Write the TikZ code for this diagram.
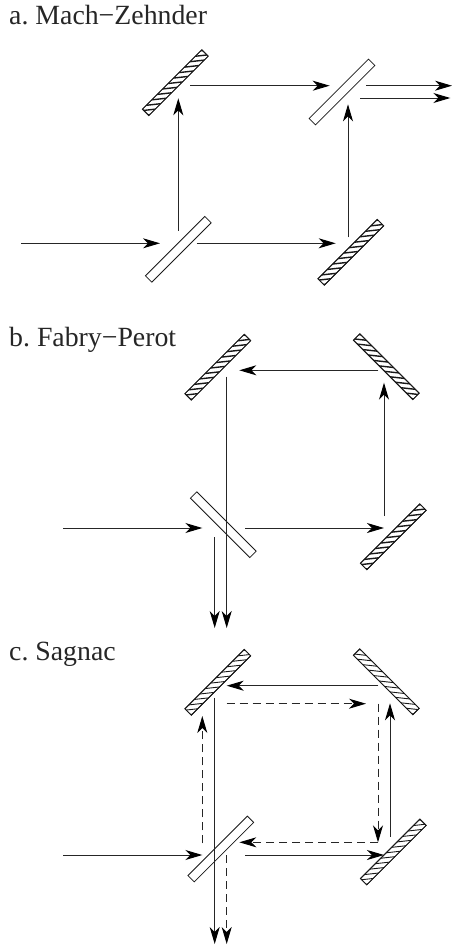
\documentclass[tikz,border=0pt]{standalone}
\usepackage{fontspec}
\setmainfont{Liberation Serif}
\usetikzlibrary{arrows.meta}
\frenchspacing
\tikzset{
  x=1pt,y=-1pt,
  beam/.style={line width=1pt,black!85,-{Stealth[length=17pt,width=10pt,inset=5pt,color=black]}},
  dbeam/.style={beam,dash pattern=on 8pt off 5pt},
  plate/.style={draw=black!90,line width=0.8pt,fill=white,minimum width=84pt,minimum height=9pt,inner sep=0pt,outer sep=0pt},
  lab/.style={anchor=base west,inner sep=0pt,font=\fontsize{27.8}{30}\selectfont,text=black!85},
}
% \mirrorbox{name}{position}{angle}{stripe width}{direction: -1 rising, 1 falling}
\newcommand{\mirrorbox}[5]{%
  \node[plate,rotate=#3] (#1) at (#2) {};
  \begin{scope}
    \clip (#1.north west)--(#1.north east)--(#1.south east)--(#1.south west)--cycle;
    \foreach \t in {-6,...,6}
      \draw[line width=#4,black!90] ([shift={({\t*5.45-9},{#5*\t*5.45+#5*(-1)})}]#1.center) -- ([shift={({\t*5.45+9},{#5*\t*5.45+#5*1})}]#1.center);
  \end{scope}
  \draw[black!90,line width=0.8pt] (#1.north west)--(#1.north east)--(#1.south east)--(#1.south west)--cycle;
}
\begin{document}
\begin{tikzpicture}
\useasboundingbox (0,0) rectangle (452,950);
% labels
\node[lab] (la) at (9,25) {a. Mach−Zehnder};
\node[lab] (lb) at (9,346) {b. Fabry−Perot};
\node[lab] (lc) at (9,660.7) {c. Sagnac};
% panel a
\mirrorbox{a1}{175.3,82.7}{45}{1.4pt}{-1}
\mirrorbox{a4}{350.8,252.3}{45}{1.4pt}{-1}
\node[plate,rotate=45] (a2) at (342,92) {};
\node[plate,rotate=45] (a3) at (178.3,249.3) {};
\coordinate (ain) at (21,243.3);
\coordinate (aoa) at (452,85.7);
\coordinate (aob) at (450.3,98);
\draw[beam] (ain) -- ([shift={(-18.3,-6)}]a3.center);
\draw[beam] ([shift={(18.4,-6)}]a3.center) -- ([shift={(-15.1,-9)}]a4.center);
\draw[beam] ([shift={(0,-18.6)}]a3.center) -- ([shift={(3,15.6)}]a1.center);
\draw[beam] ([shift={(15,3)}]a1.center) -- ([shift={(-12.3,-6.3)}]a2.center);
\draw[beam] ([shift={(-2.8,-15)}]a4.center) -- ([shift={(6,12.3)}]a2.center);
\draw[beam] ([shift={(24,-6.3)}]a2.center) -- (aoa);
\draw[beam] ([shift={(18,6)}]a2.center) -- (aob);
% panel b
\mirrorbox{b1}{217.8,367.2}{45}{1.4pt}{-1}
\mirrorbox{b2}{386.3,366.7}{-45}{1.4pt}{1}
\mirrorbox{b4}{393.3,536.8}{45}{1.4pt}{-1}
\coordinate (bin) at (63.3,528);
\coordinate (boa) at (226.7,628);
\coordinate (bob) at (214.7,628);
\node[plate,rotate=-45] (b3) at (223.3,524.7) {};
\draw[beam] (bin) -- ([shift={(-21,3.3)}]b3.center);
\draw[beam] ([shift={(21.7,3.3)}]b3.center) -- ([shift={(-9.3,-8.8)}]b4.center);
\draw[beam] ([shift={(-9.3,-20.8)}]b4.center) -- ([shift={(-2.3,16)}]b2.center);
\draw[beam] ([shift={(-8,3.6)}]b2.center) -- ([shift={(21.5,3.1)}]b1.center);
\draw[beam] ([shift={(8.9,9.5)}]b1.center) -- (boa);
\draw[beam] ([shift={(-8.6,12.6)}]b3.center) -- (bob);
% panel c
\mirrorbox{c1}{217.8,682.3}{45}{0.9pt}{-1}
\mirrorbox{c2}{386.3,681.8}{-45}{0.9pt}{1}
\mirrorbox{c4}{393.3,852}{45}{0.9pt}{-1}
\node[plate,rotate=45] (c3) at (220.8,849) {};
\coordinate (cin) at (63.3,855);
\coordinate (coa) at (214.7,944);
\coordinate (cob) at (226.7,944);
\draw[beam] (cin) -- ([shift={(-18.5,6)}]c3.center);
\draw[beam] ([shift={(24.2,6)}]c3.center) -- ([shift={(-9.3,3)}]c4.center);
\draw[beam] ([shift={(-3.3,-15.3)}]c4.center) -- ([shift={(3.7,21.5)}]c2.center);
\draw[beam] ([shift={(-8,3.9)}]c2.center) -- ([shift={(8.9,3.4)}]c1.center);
\draw[beam] ([shift={(-3.1,15.4)}]c1.center) -- (coa);
\draw[dbeam] ([shift={(-18.5,-5.7)}]c3.center) -- ([shift={(-15.5,33.7)}]c1.center);
\draw[dbeam] ([shift={(8.9,21.4)}]c1.center) -- ([shift={(-20.3,21.9)}]c2.center);
\draw[dbeam] ([shift={(-8.3,21.9)}]c2.center) -- ([shift={(-15.3,-9.7)}]c4.center);
\draw[dbeam] ([shift={(-15.3,-9.7)}]c4.center) -- ([shift={(18.5,-6.7)}]c3.center);
\draw[dbeam] ([shift={(5.9,6)}]c3.center) -- (cob);
\end{tikzpicture}
\end{document}
